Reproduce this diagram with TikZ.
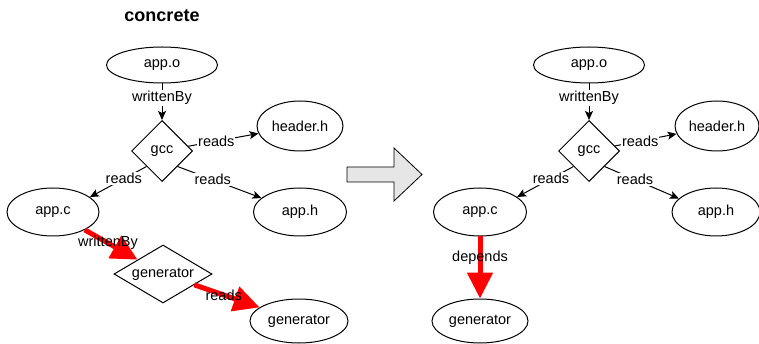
\documentclass[tikz,border=0pt]{standalone}
\usepackage{fontspec}
\setmainfont{Liberation Sans}
\usetikzlibrary{shapes.geometric,arrows.meta}
\definecolor{arrowgray}{HTML}{E6E6E6}
\begin{document}
\begin{tikzpicture}[x=1pt,y=-1pt,
  every node/.style={font=\fontsize{14.5}{17}\selectfont},
  ell/.style={draw, ellipse, inner sep=0pt, line width=1pt},
  dia/.style={draw, diamond, inner sep=0pt, line width=1pt},
  edge/.style={line width=1pt, -{Stealth[length=9pt,width=8pt,inset=2pt]}},
  lbl/.style={fill=white, inner sep=1pt},
  bigedge/.style={red, line width=5pt, -{Triangle[length=26pt,width=25pt]}},
  rlbl/.style={inner sep=1pt, text=black},
]
\useasboundingbox (0,0) rectangle (759,344);

% ---- left: concrete ----
\node[font=\bfseries\fontsize{18}{21}\selectfont] (title) at (162,16) {concrete};
\node[ell, minimum width=111pt, minimum height=36pt] (ao) at (162,65) {app.o};
\node[dia, minimum width=61pt, minimum height=61pt] (gcc) at (162,151) {gcc};
\node[ell, minimum width=86pt, minimum height=50pt] (hh) at (300,126) {header.h};
\node[ell, minimum width=92pt, minimum height=48pt] (ac) at (53,212) {app.c};
\node[ell, minimum width=93pt, minimum height=48pt] (ah) at (300,212) {app.h};
\node[dia, aspect=1.7, minimum width=98pt, minimum height=58pt] (gd) at (163,274) {generator};
\node[ell, minimum width=98pt, minimum height=44pt] (ge) at (299,321) {generator};

\draw[edge] (ao) -- node[lbl, pos=0.4] (l1) {writtenBy} (gcc);
\draw[edge] (gcc) -- node[lbl, pos=0.40] (l2) {reads} (hh);
\draw[edge] (gcc.south west) -- node[lbl, pos=0.40] (l3) {reads} (ac.22);
\draw[edge] (gcc.south east) -- node[lbl, pos=0.42] (l4) {reads} (ah.160);
\draw[bigedge] (ac) -- node[rlbl, pos=0.44] (l5) {writtenBy} (gd);
\draw[bigedge] (gd) -- node[rlbl, pos=0.45] (l6) {reads} (ge);

% ---- block arrow ----
\draw[fill=arrowgray, line width=0.8pt] (347,167) -- (394,167) -- (394,148) -- (422,174.5)
  -- (394,201) -- (394,182) -- (347,182) -- cycle;

% ---- right ----
\node[ell, minimum width=111pt, minimum height=36pt] (ao2) at (589,65) {app.o};
\node[dia, minimum width=61pt, minimum height=61pt] (gcc2) at (589,151) {gcc};
\node[ell, minimum width=84pt, minimum height=50pt] (hh2) at (717,126) {header.h};
\node[ell, minimum width=93pt, minimum height=48pt] (ac2) at (480,212) {app.c};
\node[ell, minimum width=88pt, minimum height=48pt] (ah2) at (716,212) {app.h};
\node[ell, minimum width=96pt, minimum height=44pt] (ge2) at (480,321) {generator};

\draw[edge] (ao2) -- node[lbl, pos=0.4] (r1) {writtenBy} (gcc2);
\draw[edge] (gcc2) -- node[lbl, pos=0.41] (r2) {reads} (hh2);
\draw[edge] (gcc2.south west) -- node[lbl, pos=0.40] (r3) {reads} (ac2.22);
\draw[edge] (gcc2.south east) -- node[lbl, pos=0.41] (r4) {reads} (ah2.160);
\draw[bigedge] (ac2) -- node[rlbl, pos=0.35] (r5) {depends} (ge2);
\end{tikzpicture}
\end{document}
